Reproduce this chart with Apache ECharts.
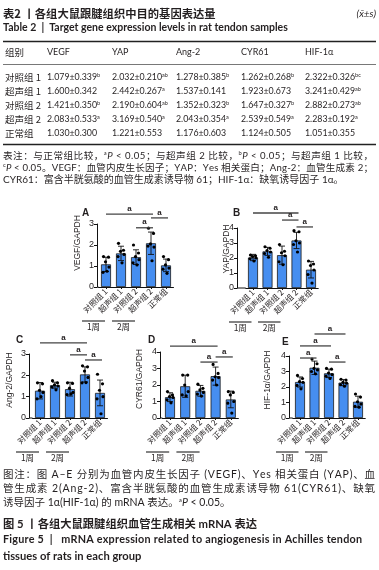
<!DOCTYPE html>
<html>
<head>
<meta charset="utf-8">
<script src="https://cdn.jsdelivr.net/npm/echarts@6/dist/echarts.min.js"></script>
<style>
html, body { margin: 0; padding: 0; background: #fff; }
#chart-container { width: 379px; height: 570px; }
</style>
</head>
<body>
<div id="chart-container"></div>
<script>
// groups and genes
const groups = ['对照组 1', '超声组 1', '对照组 2', '超声组 2', '正常组'];
const weeks = ['1周', '2周'];
const genes = ['VEGF', 'YAP', 'Ang-2', 'CYR61', 'HIF-1α'];

// means and sd (table 2)
const vegfMean = [1.079, 1.600, 1.421, 2.083, 1.030];
const vegfSd = [0.339, 0.342, 0.350, 0.533, 0.300];
const vegfSup = ['b', '', 'b', 'a', ''];
const yapMean = [2.032, 2.442, 2.190, 3.169, 1.221];
const yapSd = [0.210, 0.267, 0.604, 0.540, 0.553];
const yapSup = ['ab', 'a', 'ab', 'a', ''];
const angMean = [1.278, 1.537, 1.352, 2.043, 1.176];
const angSd = [0.385, 0.141, 0.323, 0.354, 0.603];
const angSup = ['b', '', 'b', 'a', ''];
const cyrMean = [1.262, 1.923, 1.647, 2.539, 1.124];
const cyrSd = [0.268, 0.673, 0.327, 0.549, 0.505];
const cyrSup = ['b', '', 'b', 'a', ''];
const hifMean = [2.322, 3.241, 2.882, 2.283, 1.051];
const hifSd = [0.326, 0.429, 0.273, 0.192, 0.355];
const hifSup = ['bc', 'ab', 'ab', 'a', ''];

// single animals
const vegfDots = [[1.45, 1.42, 1.2, 0.95, 0.7, 0.75], [2.08, 1.75, 1.7, 1.55, 1.45, 1.15], [2.0, 1.62, 1.45, 1.3, 1.15, 1.05], [2.8, 2.55, 2.05, 1.9, 1.95, 1.25], [1.45, 1.3, 1.05, 0.9, 0.85, 0.65]];
const yapDots = [[2.2, 2.15, 2.1, 2.0, 1.95, 1.8], [2.75, 2.65, 2.5, 2.4, 2.3, 2.05], [2.9, 2.45, 2.35, 2.15, 1.75, 1.55], [3.82, 3.75, 3.15, 3.0, 2.9, 2.4], [1.8, 1.6, 1.5, 1.2, 0.9, 0.33]];
const angDots = [[1.65, 1.6, 1.3, 1.2, 0.9, 1.0], [1.75, 1.65, 1.55, 1.5, 1.45, 1.32], [1.65, 1.62, 1.4, 1.2, 1.1, 1.13], [2.45, 2.4, 2.2, 1.9, 1.65, 1.66], [2.05, 1.6, 1.3, 1.0, 0.9, 0.2]];
const cyrDots = [[1.6, 1.4, 1.3, 1.25, 1.1, 0.92], [2.6, 2.6, 2.0, 1.6, 1.4, 1.35], [2.05, 1.8, 1.7, 1.55, 1.45, 1.33], [3.25, 2.7, 2.5, 2.45, 2.3, 2.0], [1.6, 1.55, 1.4, 1.0, 0.9, 0.3]];
const hifDots = [[2.75, 2.55, 2.35, 2.3, 2.1, 1.88], [3.8, 3.5, 3.2, 3.1, 3.0, 2.85], [3.2, 3.15, 2.9, 2.8, 2.7, 2.55], [2.5, 2.45, 2.3, 2.25, 2.15, 2.05], [1.55, 1.35, 1.05, 0.9, 0.75, 0.7]];

// significance brackets: [from group, to group, height]
const vegfSig = [[0, 3, 3.47], [2, 3, 2.82], [3, 4, 3.29]];
const yapSig = [[0, 3, 5.0], [2, 3, 4.53], [3, 4, 4.07]];
const angSig = [[0, 3, 3.52], [2, 3, 2.96], [3, 4, 2.72]];
const cyrSig = [[0, 3, 4.36], [2, 3, 3.39], [3, 4, 3.7]];
const hifSig = [[1, 3, 5.42], [0, 2, 4.65], [0, 1, 3.87], [2, 3, 3.61]];

const cjk = '"Noto Sans CJK SC"';
const latin = 'Lato, "Noto Sans CJK SC"';
const ink = '#231f20';
const barBlue = '#468ef0';

const panels = [
	{ letter: 'A', yName: 'VEGF/GAPDH', mean: vegfMean, sd: vegfSd, dots: vegfDots, sig: vegfSig, max: 3,
	  axisX: 97, first: 106, step: 15, y0: 287, yTop: 224, letterPos: [82, 213], namePos: [78, 243] },
	{ letter: 'B', yName: 'YAP/GAPDH', mean: yapMean, sd: yapSd, dots: yapDots, sig: yapSig, max: 4,
	  axisX: 237, first: 253, step: 14.5, y0: 288, yTop: 228, letterPos: [233, 213], namePos: [227, 249] },
	{ letter: 'C', yName: 'Ang-2/GAPDH', mean: angMean, sd: angSd, dots: angDots, sig: angSig, max: 3,
	  axisX: 29, first: 40, step: 15, y0: 418, yTop: 354, letterPos: [16, 340], namePos: [10, 380] },
	{ letter: 'D', yName: 'CYR61/GAPDH', mean: cyrMean, sd: cyrSd, dots: cyrDots, sig: cyrSig, max: 4,
	  axisX: 160, first: 170, step: 15.2, y0: 418, yTop: 352, letterPos: [148, 340], namePos: [140, 379] },
	{ letter: 'E', yName: 'HIF-1α/GAPDH', mean: hifMean, sd: hifSd, dots: hifDots, sig: hifSig, max: 4,
	  axisX: 289, first: 300, step: 14.5, y0: 418, yTop: 356, letterPos: [282, 342], namePos: [268, 380] }
];

const jitter = [-2.5, 2.5, -0.5, 3, -3, 1];

const grid = [], xAxis = [], yAxis = [], series = [], graphic = [];

panels.forEach((p, i) => {
	grid.push({ left: p.first - p.step / 2, top: p.yTop, width: p.step * 5, height: p.y0 - p.yTop });
	xAxis.push({
		type: 'category', gridIndex: i, data: groups,
		axisLine: { lineStyle: { color: '#111', width: 1 } },
		axisTick: { show: true, length: 2, alignWithLabel: true, lineStyle: { color: '#111' } },
		axisLabel: { rotate: 45, fontSize: 8, margin: 3, color: ink, fontFamily: cjk, interval: 0 }
	});
	yAxis.push({
		type: 'value', gridIndex: i, min: 0, max: p.max, interval: 1,
		offset: p.first - p.step / 2 - p.axisX,
		axisLine: { show: true, lineStyle: { color: '#111', width: 1 } },
		axisTick: { show: true, length: 3, lineStyle: { color: '#111' } },
		axisLabel: { fontSize: 9, margin: 3, color: ink, fontFamily: 'Liberation Sans' },
		splitLine: { show: false }
	});
	series.push({
		type: 'bar', xAxisIndex: i, yAxisIndex: i, data: p.mean, barWidth: 10,
		itemStyle: { color: barBlue, borderColor: '#1b1b1b', borderWidth: 0.8 },
		silent: true, z: 2
	});
	series.push({
		type: 'custom', xAxisIndex: i, yAxisIndex: i, z: 3,
		data: p.mean.map((m, k) => [k, m, p.sd[k]]),
		renderItem: (params, api) => {
			const x = api.value(0), m = api.value(1), s = api.value(2);
			const hi = api.coord([x, m + s]), lo = api.coord([x, m - s]);
			const st = { stroke: '#111', lineWidth: 0.9 };
			return { type: 'group', children: [
				{ type: 'line', shape: { x1: hi[0], y1: hi[1], x2: lo[0], y2: lo[1] }, style: st },
				{ type: 'line', shape: { x1: hi[0] - 3, y1: hi[1], x2: hi[0] + 3, y2: hi[1] }, style: st },
				{ type: 'line', shape: { x1: lo[0] - 3, y1: lo[1], x2: lo[0] + 3, y2: lo[1] }, style: st }
			] };
		}
	});
	const dotData = [];
	p.dots.forEach((arr, k) => arr.forEach((v, j) => dotData.push([k, v, j])));
	series.push({
		type: 'custom', xAxisIndex: i, yAxisIndex: i, z: 4, data: dotData,
		renderItem: (params, api) => {
			const c = api.coord([api.value(0), api.value(1)]);
			return { type: 'circle', shape: { cx: c[0] + jitter[api.value(2)], cy: c[1], r: 1.6 }, style: { fill: '#000' } };
		}
	});
	series.push({
		type: 'custom', xAxisIndex: i, yAxisIndex: i, z: 4, clip: false, data: p.sig,
		renderItem: (params, api) => {
			const a = api.coord([api.value(0), api.value(2)]), b = api.coord([api.value(1), api.value(2)]);
			return { type: 'group', children: [
				{ type: 'line', shape: { x1: a[0], y1: a[1], x2: b[0] + 2, y2: b[1] }, style: { stroke: '#444', lineWidth: 1.3 } },
				{ type: 'text', x: (a[0] + b[0]) / 2 + 1, y: a[1] - 1.5,
				  style: { text: 'a', fill: ink, font: 'bold 8px Liberation Sans', align: 'center', verticalAlign: 'bottom' } }
			] };
		}
	});
	graphic.push({ type: 'text', x: p.letterPos[0], y: p.letterPos[1],
		style: { text: p.letter, fill: ink, font: 'bold 10px Liberation Sans', verticalAlign: 'middle' } });
	graphic.push({ type: 'text', x: p.namePos[0], y: p.namePos[1], rotation: Math.PI / 2,
		style: { text: p.yName, fill: ink, font: '8.5px Liberation Sans', align: 'center', verticalAlign: 'middle' } });
});

// text helpers
const T = (x, y, text, font, extra) => graphic.push({ type: 'text', x: x, y: y,
	style: Object.assign({ text: text, fill: ink, font: font, verticalAlign: 'middle' }, extra || {}) });
const rich = {
	s: { fontSize: 5.5, verticalAlign: 'top', fontFamily: 'Lato', fill: ink },
	i: { fontStyle: 'italic', fontSize: 9, fontFamily: 'Lato', fill: ink }
};
const ctx = document.createElement('canvas').getContext('2d');
// spread a line of text evenly between x1 and x2 (justified like the print)
function justify(x1, x2, y, segs) {
	const chars = [];
	segs.forEach(s => Array.from(s[0]).forEach(ch => {
		ctx.font = s[1];
		chars.push({ ch: ch, font: s[1], dy: s[2] || 0, w: ctx.measureText(ch).width });
	}));
	const total = chars.reduce((a, c) => a + c.w, 0);
	const gap = (x2 - x1 - total) / (chars.length - 1);
	let x = x1;
	chars.forEach(c => {
		if (c.ch !== ' ') graphic.push({ type: 'text', x: x, y: y + c.dy,
			style: { text: c.ch, fill: ink, font: c.font, verticalAlign: 'middle' } });
		x += c.w + gap;
	});
}

// table
T(3, 14, '表2 丨各组大鼠跟腱组织中目的基因表达量', 'bold 11.3px ' + cjk);
T(376, 14, '(x̄±s)', 'italic 10px ' + latin, { align: 'right' });
T(3, 28, 'Table 2  |  Target gene expression levels in rat tendon samples', 'bold 10.5px ' + latin);
graphic.push({ type: 'line', shape: { x1: 3, y1: 41.5, x2: 376, y2: 41.5 }, style: { stroke: '#222', lineWidth: 1.5 } });
graphic.push({ type: 'line', shape: { x1: 3, y1: 64.5, x2: 376, y2: 64.5 }, style: { stroke: '#555', lineWidth: 0.8 } });
graphic.push({ type: 'line', shape: { x1: 3, y1: 144.5, x2: 376, y2: 144.5 }, style: { stroke: '#222', lineWidth: 1.3 } });

const colX = [47, 112, 176, 241, 305];
T(5, 52.5, '组别', '9.5px ' + cjk);
genes.forEach((g, c) => T(colX[c], 52.5, g, '9px ' + latin));
const tableCols = [[vegfMean, vegfSd, vegfSup], [yapMean, yapSd, yapSup], [angMean, angSd, angSup], [cyrMean, cyrSd, cyrSup], [hifMean, hifSd, hifSup]];
groups.forEach((g, r) => {
	const y = 77 + 14 * r;
	T(5, y, g, '9.5px ' + cjk);
	tableCols.forEach((col, c) => {
		const txt = col[0][r].toFixed(3) + '±' + col[1][r].toFixed(3) + (col[2][r] ? '{s|' + col[2][r] + '}' : '');
		T(colX[c], y, txt, '8.8px Lato', { rich: rich });
	});
});

// table notes
const nf = '9.6px ' + latin, nfs = '5.8px Lato', nfi = 'italic 9.6px Lato';
justify(3, 373, 156, [['表注：与正常组比较，', nf], ['a', nfs, -2.5], ['P', nfi], [' < 0.05；与超声组 2 比较，', nf],
	['b', nfs, -2.5], ['P', nfi], [' < 0.05；与超声组 1 比较，', nf]]);
justify(3, 373, 168, [['c', nfs, -2.5], ['P', nfi], [' < 0.05。VEGF：血管内皮生长因子；YAP：Yes 相关蛋白；Ang-2：血管生成素 2；', nf]]);
T(3, 180, 'CYR61：富含半胱氨酸的血管生成素诱导物 61；HIF-1α：缺氧诱导因子 1α。', '10px ' + latin);

// figure caption
const cf = '10.5px ' + latin;
justify(3, 375, 475, [['图注：图 A–E 分别为血管内皮生长因子 (VEGF)、Yes 相关蛋白 (YAP)、血', cf]]);
justify(3, 375, 489, [['管生成素 2(Ang-2)、富含半胱氨酸的血管生成素诱导物 61(CYR61)、缺氧', cf]]);
const rich2 = { s: { fontSize: 6.2, verticalAlign: 'top', fontFamily: 'Lato', fill: ink }, i: { fontStyle: 'italic', fontSize: 10.5, fontFamily: 'Lato', fill: ink } };
T(3, 503, '诱导因子 1α(HIF-1α) 的 mRNA 表达。{s|a}{i|P} < 0.05。', cf, { rich: rich2 });
T(3, 524, '图 5 丨各组大鼠跟腱组织血管生成相关 mRNA 表达', 'bold 11.3px ' + latin);
justify(3, 362, 540, [['Figure 5  |   mRNA expression related to angiogenesis in Achilles tendon', 'bold 10.8px ' + latin]]);
T(3, 556, 'tissues of rats in each group', 'bold 11.2px ' + latin);

const myChart = echarts.init(document.getElementById('chart-container'), null, { renderer: 'canvas' });
myChart.setOption({ animation: false, grid: grid, xAxis: xAxis, yAxis: yAxis, series: series, graphic: graphic });

// x axis stub between the offset y axis and the grid, plus the week brackets
const extra = graphic.slice();
panels.forEach((p, i) => {
	const g0 = myChart.convertToPixel({ gridIndex: i }, [0, 0]);
	extra.push({ type: 'line', shape: { x1: p.axisX, y1: g0[1], x2: p.first - p.step / 2, y2: g0[1] }, style: { stroke: '#111', lineWidth: 1 } });
	weeks.forEach((w, k) => {
		const c1 = myChart.convertToPixel({ gridIndex: i }, [2 * k, 0]);
		const c2 = myChart.convertToPixel({ gridIndex: i }, [2 * k + 1, 0]);
		const x1 = c1[0] - 24, x2 = c2[0] - 16, yl = g0[1] + 34;
		extra.push({ type: 'line', shape: { x1: x1, y1: yl, x2: x2, y2: yl }, style: { stroke: '#333', lineWidth: 1.2 } });
		extra.push({ type: 'text', x: (x1 + x2) / 2, y: yl + 6,
			style: { text: w, fill: ink, font: '8.5px ' + cjk, align: 'center', verticalAlign: 'middle' } });
	});
});
myChart.setOption({ graphic: extra });
</script>
</body>
</html>
